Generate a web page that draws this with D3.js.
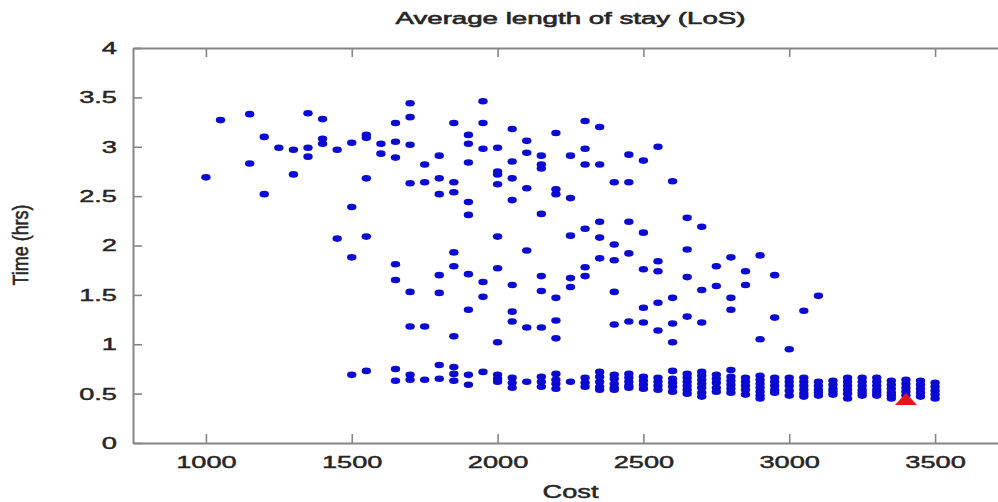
<!DOCTYPE html>
<html>
<head>
<meta charset="utf-8">
<script src="https://cdn.jsdelivr.net/npm/d3@7"></script>
<style>
  html, body { margin: 0; padding: 0; background: #fff; }
  svg { display: block; overflow: hidden; }
  text { font-family: "Liberation Sans", Arial, Helvetica, sans-serif; fill: #262626; stroke: #262626; stroke-width: 0.45px; }
</style>
</head>
<body>
<svg id="chart" width="998" height="502"></svg>
<script>
// Cost levels evaluated (step of 50) and the average length of stay found at each
const costLevels = [
  1000, 1050, 1150, 1200, 1250, 1300, 1350, 1400, 1450, 1500,
  1550, 1600, 1650, 1700, 1750, 1800, 1850, 1900, 1950, 2000,
  2050, 2100, 2150, 2200, 2250, 2300, 2350, 2400, 2450, 2500,
  2550, 2600, 2650, 2700, 2750, 2800, 2850, 2900, 2950, 3000,
  3050, 3100, 3150, 3200, 3250, 3300, 3350, 3400, 3450, 3500
];
const timesAtCost = [
  [2.69],
  [3.27],
  [3.33, 2.83],
  [3.10, 2.52],
  [2.99],
  [2.97, 2.72],
  [3.34, 2.99, 2.90],
  [3.28, 3.08, 3.03],
  [2.97, 2.07],
  [3.04, 2.39, 1.88, 0.69],
  [3.12, 3.09, 2.68, 2.09, 0.73],
  [3.03, 2.93],
  [3.24, 3.05, 2.89, 1.81, 1.65, 0.75, 0.63],
  [3.44, 3.30, 3.02, 2.63, 1.53, 1.18, 0.69, 0.64],
  [2.82, 2.64, 1.18, 0.64],
  [2.91, 2.68, 2.52, 1.70, 1.52, 0.79, 0.65],
  [3.24, 2.64, 2.54, 1.93, 1.79, 1.08, 0.77, 0.70, 0.63],
  [3.12, 3.03, 2.84, 2.44, 2.31, 1.71, 1.35, 0.69, 0.59],
  [3.46, 3.24, 2.98, 1.63, 1.48, 0.72],
  [2.99, 2.75, 2.72, 2.62, 2.09, 1.77, 1.02, 0.69, 0.65, 0.62],
  [3.18, 2.85, 2.68, 2.46, 1.60, 1.33, 1.23, 0.66, 0.61, 0.56],
  [3.06, 2.94, 2.58, 1.95, 1.17, 0.62],
  [2.91, 2.82, 2.78, 2.32, 1.69, 1.54, 1.17, 0.67, 0.62, 0.57],
  [3.14, 2.57, 2.52, 1.47, 1.24, 1.06, 0.70, 0.64, 0.60, 0.55],
  [2.91, 2.48, 2.10, 1.67, 1.58, 0.62],
  [3.26, 2.98, 2.82, 2.17, 1.78, 1.69, 0.66, 0.61, 0.57],
  [3.20, 2.82, 2.24, 2.08, 1.87, 0.72, 0.67, 0.62, 0.57, 0.54],
  [2.64, 2.01, 1.85, 1.53, 1.20, 0.69, 0.65, 0.60, 0.56, 0.54],
  [2.92, 2.64, 2.24, 1.92, 1.23, 0.70, 0.66, 0.62, 0.58, 0.56],
  [2.86, 2.13, 1.76, 1.37, 1.22, 0.67, 0.63, 0.59, 0.55],
  [3.00, 1.84, 1.74, 1.42, 1.14, 0.66, 0.62, 0.58, 0.54],
  [2.65, 1.47, 1.21, 1.02, 0.73, 0.65, 0.61, 0.57, 0.52],
  [2.28, 1.96, 1.68, 1.28, 0.70, 0.66, 0.62, 0.58, 0.54, 0.50],
  [2.19, 1.55, 1.22, 0.72, 0.68, 0.64, 0.60, 0.56, 0.51, 0.47],
  [1.79, 1.59, 0.69, 0.65, 0.61, 0.56, 0.52],
  [1.88, 1.47, 1.35, 0.74, 0.67, 0.63, 0.59, 0.55, 0.51],
  [1.74, 1.60, 0.66, 0.62, 0.58, 0.54, 0.49],
  [1.90, 1.05, 0.68, 0.64, 0.60, 0.56, 0.52, 0.48, 0.45],
  [1.70, 1.27, 0.66, 0.62, 0.58, 0.54, 0.51],
  [0.95, 0.66, 0.62, 0.58, 0.53, 0.48],
  [1.34, 0.66, 0.62, 0.58, 0.54, 0.50, 0.47],
  [1.49, 0.62, 0.58, 0.54, 0.51, 0.48],
  [0.63, 0.59, 0.55, 0.52, 0.49],
  [0.66, 0.62, 0.58, 0.54, 0.50, 0.45],
  [0.66, 0.62, 0.58, 0.54, 0.51, 0.48],
  [0.66, 0.62, 0.58, 0.54, 0.51, 0.48],
  [0.63, 0.59, 0.55, 0.51, 0.48, 0.45],
  [0.64, 0.60, 0.56, 0.52, 0.48],
  [0.63, 0.59, 0.55, 0.51, 0.47],
  [0.61, 0.57, 0.53, 0.49, 0.45]
];

// Selected solution
const bestCost = 3400;
const bestTime = 0.44;

// Axis ticks and text
const costTicks = [1000, 1500, 2000, 2500, 3000, 3500];
const timeTicks = [0, 0.5, 1, 1.5, 2, 2.5, 3, 3.5, 4];
const titleText = "Average length of stay (LoS)";
const xLabel = "Cost";
const yLabel = "Time (hrs)";

const svg = d3.select("#chart");
const plotLeft = 133, plotRight = 1008, plotTop = 48, plotBottom = 443;

const x = d3.scaleLinear().domain([750, 3750]).range([plotLeft, plotRight]);
const y = d3.scaleLinear().domain([0, 4]).range([plotBottom, plotTop]);

// Widen glyphs horizontally
const STRETCH = 1.6;
function widen(sel, factor) {
  sel.each(function () {
    const w = this.getComputedTextLength();
    this.setAttribute("textLength", (w * factor).toFixed(1));
    this.setAttribute("lengthAdjust", "spacingAndGlyphs");
  });
}

const axisColor = "#858585";
function styleAxis(g) {
  g.select(".domain").attr("stroke", axisColor).attr("stroke-width", 2);
  g.selectAll(".tick line").attr("stroke", axisColor).attr("stroke-width", 1.6);
  g.selectAll(".tick text").attr("fill", "#262626")
    .style("font-size", "17px").style("font-family", "'Liberation Sans', Arial, sans-serif");
}

// Bottom axis
const gB = svg.append("g").attr("transform", `translate(0,${plotBottom})`)
  .call(d3.axisBottom(x).tickValues(costTicks).tickFormat(d3.format("d"))
    .tickSizeInner(-9).tickSizeOuter(0).tickPadding(13));
styleAxis(gB);
widen(gB.selectAll(".tick text"), STRETCH);

// Top axis
const gT = svg.append("g").attr("transform", `translate(0,${plotTop})`)
  .call(d3.axisTop(x).tickValues(costTicks).tickFormat("")
    .tickSizeInner(-9).tickSizeOuter(0));
styleAxis(gT);

// Left axis
const gL = svg.append("g").attr("transform", `translate(${plotLeft},0)`)
  .call(d3.axisLeft(y).tickValues(timeTicks).tickFormat(d3.format("~g"))
    .tickSizeInner(-9).tickSizeOuter(0).tickPadding(16));
styleAxis(gL);
widen(gL.selectAll(".tick text"), STRETCH);

// Right axis
const gR = svg.append("g").attr("transform", `translate(${plotRight},0)`)
  .call(d3.axisRight(y).tickValues(timeTicks).tickFormat("")
    .tickSizeInner(-9).tickSizeOuter(0));
styleAxis(gR);

// Points
const points = [];
costLevels.forEach((c, i) => timesAtCost[i].forEach(t => points.push({ cost: c, time: t })));

svg.append("g").selectAll("ellipse")
  .data(points)
  .join("ellipse")
  .attr("cx", d => x(d.cost))
  .attr("cy", d => y(d.time))
  .attr("rx", 4.7)
  .attr("ry", 3.3)
  .attr("fill", "#0a0ad2");

// Selected solution marker
svg.append("path")
  .attr("transform", `translate(${x(bestCost)},${y(bestTime)})`)
  .attr("d", "M0,-6.5 L11,5.5 L-11,5.5 Z")
  .attr("fill", "#e8141c");

// Title
svg.append("text")
  .attr("x", (plotLeft + plotRight) / 2).attr("y", 24)
  .attr("text-anchor", "middle")
  .style("font-size", "17px")
  .style("stroke-width", "0.6px")
  .attr("textLength", 350).attr("lengthAdjust", "spacingAndGlyphs")
  .text(titleText);

// X axis label
svg.append("text")
  .attr("x", (plotLeft + plotRight) / 2).attr("y", 498)
  .attr("text-anchor", "middle")
  .style("font-size", "18px")
  .attr("textLength", 56).attr("lengthAdjust", "spacingAndGlyphs")
  .text(xLabel);

// Y axis label
svg.append("text")
  .attr("transform", "translate(28,245) scale(1.35,1) rotate(-90)")
  .attr("text-anchor", "middle")
  .style("font-size", "16px")
  .attr("textLength", 81).attr("lengthAdjust", "spacingAndGlyphs")
  .text(yLabel);
</script>
</body>
</html>
